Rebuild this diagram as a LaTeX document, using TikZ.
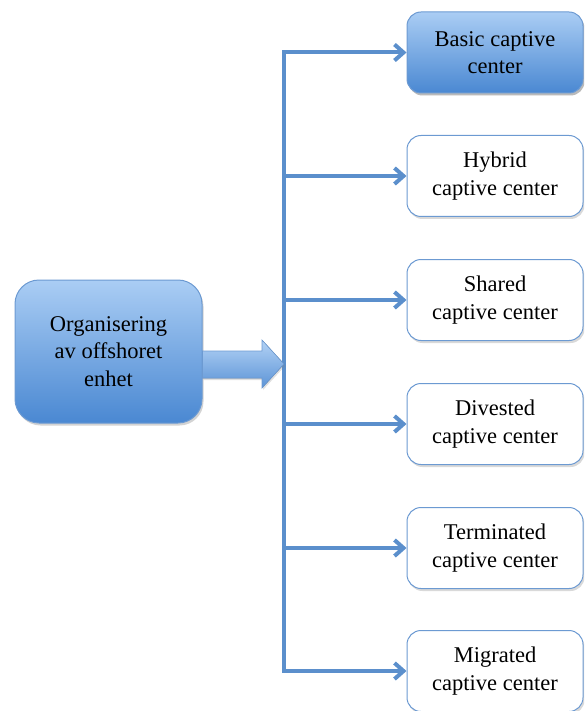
\documentclass[tikz,border=0pt]{standalone}
\usepackage{fontspec}
\setmainfont{Liberation Serif}
\usetikzlibrary{arrows.meta,shadows,positioning}
\definecolor{lineblue}{HTML}{5B8FCC}
\definecolor{topblue}{HTML}{AACDF4}
\definecolor{botblue}{HTML}{4A88D2}
\definecolor{edgeblue}{HTML}{6C9AD2}
\tikzset{
  bluebox/.style={draw=edgeblue, line width=1pt, top color=topblue, bottom color=botblue,
    align=center, font=\fontsize{22.5}{27.5}\selectfont, text=black,
    drop shadow={shadow xshift=1.5pt, shadow yshift=-2.5pt, opacity=0.35}},
  whitebox/.style={draw=edgeblue, line width=1pt, fill=white, rounded corners=14pt,
    minimum width=176pt, minimum height=81pt, inner sep=0pt,
    align=center, font=\fontsize{22.5}{27.5}\selectfont, text=black,
    drop shadow={shadow xshift=1.5pt, shadow yshift=-2.5pt, opacity=0.3}},
  link/.style={draw=lineblue, line width=4pt, line cap=rect,
    -{Straight Barb[length=9pt,width=16pt,line width=4pt]}},
}
\begin{document}
\begin{tikzpicture}[x=1pt,y=-1pt]
\useasboundingbox (0,0) rectangle (584,711);
\clip (0,0) rectangle (584,711);
\node[bluebox, rounded corners=24pt, minimum width=187pt, minimum height=143pt, inner sep=0pt]
  (org) at (108.5,351.5) {Organisering\\av offshoret\\enhet};
\node[whitebox, bluebox, rounded corners=14pt] (b1) at (495,52.5) {Basic captive\\center};
\node[whitebox] (b2) at (495,176) {Hybrid\\captive center};
\node[whitebox] (b3) at (495,300) {Shared\\captive center};
\node[whitebox] (b4) at (495,424) {Divested\\captive center};
\node[whitebox] (b5) at (495,548) {Terminated\\captive center};
\node[whitebox] (b6) at (495,671) {Migrated\\captive center};
\coordinate (hub) at (284,364);
\foreach \b in {b1,b2,b3,b4,b5,b6}{
  \draw[link] (hub) |- (\b.west);
}
% block arrow from org to the spine
\fill[top color=topblue!90!white, bottom color=botblue!90, draw=edgeblue, line width=0.6pt,
  drop shadow={shadow xshift=1pt, shadow yshift=-2pt, opacity=0.25}]
  (org.east |- 0,351) -- (262,351) -- (262,340) -- (hub) -- (262,388) -- (262,378)
  -- (org.east |- 0,378) -- cycle;
\end{tikzpicture}
\end{document}
